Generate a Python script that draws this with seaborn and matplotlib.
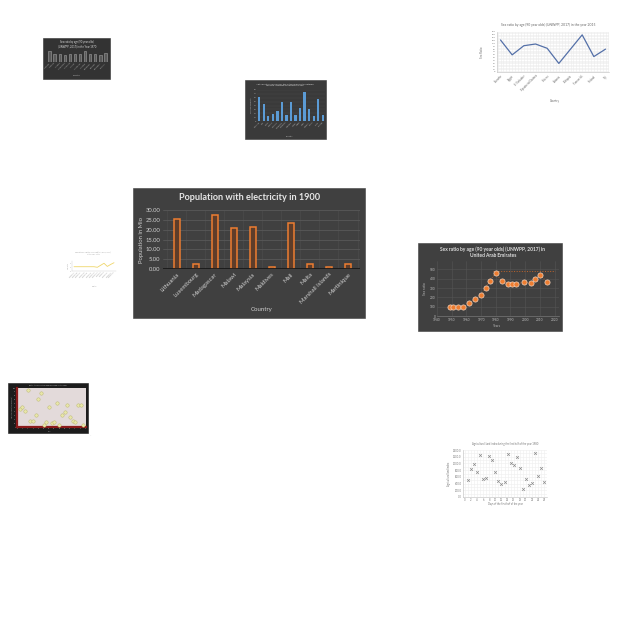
import matplotlib
matplotlib.use("Agg")
import matplotlib.pyplot as plt
import matplotlib.ticker as mticker
from matplotlib.patches import Rectangle
import seaborn as sns
import numpy as np
import pandas as pd

sns.set_theme(style="white")
plt.rcParams['font.family'] = ['Lato', 'DejaVu Sans']

# ---------------- data ----------------
# main chart
main_countries = ["Lithuania", "Luxembourg", "Madagascar", "Malawi", "Malaysia",
                  "Maldives", "Mali", "Malta", "Marshall Islands", "Martinique"]
main_values = [25.3, 2.5, 27.6, 21.0, 21.5, 1.0, 23.3, 2.5, 1.0, 2.3]

# top-left thumbnail (grey bars)
tl_countries = ["Albania", "Algeria", "Angola", "Argentina", "Armenia", "Aruba",
                "Australia", "Austria", "Bahamas", "Bahrain", "Barbados", "Belarus"]
tl_values = [95, 70, 68, 60, 70, 65, 68, 95, 70, 65, 60, 72]

# blue bars thumbnail
bl_countries = ["Malaysia", "Mali", "Malta", "Mexico", "Monaco", "Mongolia", "Morocco",
                "Namibia", "Nauru", "Nepal", "Niger", "Norway", "Oman", "Palau", "Panama"]
bl_values = [63, 45, 13, 17, 25, 50, 15, 50, 15, 33, 75, 30, 13, 58, 15]

# top-right line thumbnail
tr_countries = ["Ecuador", "Egypt", "El Salvador", "Equatorial Guinea", "Eritrea",
                "Estonia", "Ethiopia", "Faeroe Isl.", "Finland", "Fiji"]
tr_values = [112, 60, 92, 98, 83, 30, 80, 130, 54, 80]

# UAE scatter
uae_years = [1949, 1951, 1954, 1958, 1962, 1966, 1970, 1973, 1976, 1980,
             1984, 1988, 1991, 1994, 1999, 2004, 2007, 2010, 2015]
uae_values = [95, 93, 96, 92, 138, 181, 225, 301, 380, 460,
              373, 344, 348, 344, 362, 351, 399, 442, 362]

# small yellow line thumbnail
yl_countries = ["A", "B", "C", "D", "E", "F", "G", "H", "I", "J", "K", "L", "M"]
yl_values = [3.0, 3.0, 3.0, 3.0, 3.0, 3.0, 3.0, 2.6, 4.0, 5.4, 3.2, 4.6, 5.8]

# dark scatter thumbnail
ds_x = [1, 2, 3, 4, 5, 6, 7, 8, 9, 10, 11, 12, 13, 14, 15, 16, 17, 18, 19, 20, 21, 22, 23, 24, 25]
ds_y = [45, 52, 42, 95, 15, 16, 32, 72, 88, 5, 12, 52, 10, 12, 62, 5, 30, 38, 57, 25, 15, 12, 57, 57, 5]

# light scatter thumbnail
ls_days = list(range(1, 27))
ls_values = [500, 840, 970, 740, 1240, 550, 570, 1220, 1100, 750, 470, 400, 440,
             1270, 1000, 950, 1190, 850, 250, 550, 350, 420, 1320, 640, 870, 450]

W, H = 640, 640
fig = plt.figure(figsize=(6.4, 6.4), dpi=100)
fig.patch.set_facecolor("white")


def R(x0, y0, x1, y1):
    return [x0 / W, 1 - y1 / H, (x1 - x0) / W, (y1 - y0) / H]


def panel(x0, y0, x1, y1, color, ec=None):
    fig.add_artist(Rectangle((x0 / W, 1 - y1 / H), (x1 - x0) / W, (y1 - y0) / H,
                             transform=fig.transFigure, facecolor=color,
                             edgecolor=ec if ec else color, linewidth=0.4, zorder=0))


def ftext(x, y, s, **kw):
    fig.text(x / W, 1 - y / H, s, ha=kw.pop("ha", "center"), va=kw.pop("va", "center"), **kw)


def clean(ax):
    for s in ax.spines.values():
        s.set_visible(False)
    ax.tick_params(length=0, pad=1)


# ---------------- main chart ----------------
panel(133, 188, 365, 318, "#404040")
ax = fig.add_axes(R(163, 210, 360, 269))
ax.set_facecolor("#404040")
df = pd.DataFrame({"Country": main_countries, "Population": main_values})
sns.barplot(data=df, x="Country", y="Population", ax=ax, color="#5e3d2a",
            edgecolor="#ed7d31", linewidth=1.1, width=0.33, saturation=1, zorder=3)
clean(ax)
ax.set_ylim(0, 30)
ax.set_xlim(-0.72, 9.63)
ax.yaxis.set_major_locator(mticker.MultipleLocator(5))
ax.yaxis.set_major_formatter(mticker.FormatStrFormatter("%.2f"))
ax.grid(True, axis="y", color="#585858", linewidth=0.6, zorder=0)
for xv in np.arange(-0.5, 10, 1):
    ax.axvline(xv, color="#4b4b4b", linewidth=0.5, zorder=0)
ax.axhline(0, color="#1a1a1a", linewidth=1.3, zorder=4)
ax.tick_params(axis="y", labelsize=4.2, labelcolor="#cfcfcf", pad=2)
ax.tick_params(axis="x", labelsize=4.3, labelcolor="#cfcfcf", pad=2)
plt.setp(ax.get_xticklabels(), rotation=45, ha="right", rotation_mode="anchor")
ax.set_xlabel("")
ax.set_ylabel("")
ftext(142, 240, "Population in Mio", fontsize=4.2, color="#cfcfcf", rotation=90)
ftext(250, 198, "Population with electricity in 1900", fontsize=6.6, fontweight="bold",
      color="#e6e6e6")
ftext(262, 309, "Country", fontsize=4.4, color="#cfcfcf")

# ---------------- top-left grey bars ----------------
panel(43, 38, 110, 79, "#333333")
ax = fig.add_axes(R(47, 50, 108, 62))
ax.set_facecolor("#333333")
sns.barplot(x=tl_countries, y=tl_values, ax=ax, color="#5a5a5a", edgecolor="#a0a0a0",
            linewidth=0.4, width=0.45, saturation=1)
clean(ax)
ax.set_ylim(0, 100)
ax.set_yticks([])
ax.tick_params(axis="x", labelsize=1.6, labelcolor="#aaaaaa", pad=0.5)
plt.setp(ax.get_xticklabels(), rotation=45, ha="right", rotation_mode="anchor")
ftext(77, 44, "Sex ratio by age (90 year olds)\n(UNWPP, 2017) in the Year 1970",
      fontsize=1.9, color="#dddddd", linespacing=1.1)
ftext(77, 75, "Country", fontsize=1.6, color="#aaaaaa")

# ---------------- blue bars ----------------
panel(245, 80, 326, 139, "#3a3a3a")
ax = fig.add_axes(R(257, 90, 325, 121))
ax.set_facecolor("#3a3a3a")
sns.barplot(x=bl_countries, y=bl_values, ax=ax, color="#5b9bd5", edgecolor="#5b9bd5",
            linewidth=0, width=0.5, saturation=1, zorder=3)
clean(ax)
ax.set_ylim(0, 80)
ax.yaxis.set_major_locator(mticker.MultipleLocator(10))
ax.grid(True, axis="y", color="#4a4a4a", linewidth=0.3, zorder=0)
ax.tick_params(axis="y", labelsize=1.5, labelcolor="#bbbbbb", pad=0.5)
ax.tick_params(axis="x", labelsize=1.5, labelcolor="#bbbbbb", pad=0.5)
plt.setp(ax.get_xticklabels(), rotation=45, ha="right", rotation_mode="anchor")
ax.set_ylabel("Tourism receipts", fontsize=1.5, color="#bbbbbb", labelpad=1)
ftext(285, 85, "Net country Malaysia for the national and international\ntourism receiving countries in 1996",
      fontsize=1.7, color="#dddddd", linespacing=1.1)
ftext(290, 136, "Country", fontsize=1.5, color="#bbbbbb")

# ---------------- top-right line ----------------
ax = fig.add_axes(R(497, 32, 609, 72))
ax.set_facecolor("white")
sns.lineplot(x=tr_countries, y=tr_values, ax=ax, color="#5470a8", linewidth=0.9, sort=False)
clean(ax)
ax.set_ylim(0, 140)
ax.set_xlim(-0.3, 9.3)
ax.yaxis.set_major_locator(mticker.MultipleLocator(10))
ax.yaxis.set_minor_locator(mticker.MultipleLocator(5))
ax.xaxis.set_minor_locator(mticker.MultipleLocator(0.25))
ax.grid(True, which="both", color="#ececec", linewidth=0.4)
ax.spines["left"].set_visible(True)
ax.spines["left"].set_color("#bbbbbb")
ax.spines["left"].set_linewidth(0.4)
ax.spines["bottom"].set_visible(True)
ax.spines["bottom"].set_color("#bbbbbb")
ax.spines["bottom"].set_linewidth(0.4)
ax.tick_params(axis="y", labelsize=1.6, labelcolor="#666666", pad=1)
ax.tick_params(axis="x", labelsize=2.0, labelcolor="#666666", pad=1.5)
plt.setp(ax.get_xticklabels(), rotation=45, ha="right", rotation_mode="anchor")
ax.set_ylabel("Sex Ratio", fontsize=2.0, color="#666666", labelpad=2)
ftext(548, 25, "Sex ratio by age (90 year olds) (UNWPP, 2017) in the year 2015",
      fontsize=2.4, color="#666666")
ftext(555, 101, "Country", fontsize=2.0, color="#666666")

# ---------------- UAE scatter ----------------
panel(418, 243, 562, 331, "#404040")
ax = fig.add_axes(R(437, 261, 559, 316))
ax.set_facecolor("#404040")
ax.plot(uae_years, uae_values, linestyle=":", color="#c0642a", linewidth=0.6, zorder=2)
sns.scatterplot(x=uae_years, y=uae_values, ax=ax, color="#ed7d31", edgecolor="#f3d3bd",
                linewidth=0.5, s=14, zorder=3)
ax.hlines(480, 1978, 2020, colors="#c0642a", linestyles=":", linewidth=0.7, zorder=2)
clean(ax)
ax.set_xlim(1940, 2023)
ax.set_ylim(0, 590)
ax.xaxis.set_major_locator(mticker.MultipleLocator(10))
ax.yaxis.set_major_locator(mticker.MultipleLocator(100))
ax.grid(True, color="#555555", linewidth=0.4)
ax.spines["bottom"].set_visible(True)
ax.spines["bottom"].set_color("#777777")
ax.spines["bottom"].set_linewidth(0.5)
ax.tick_params(axis="both", labelsize=2.3, labelcolor="#bbbbbb", pad=1.2)
ax.set_ylabel("Sex ratio", fontsize=2.3, color="#bbbbbb", labelpad=1.5)
ftext(493, 252, "Sex ratio by age (90 year olds) (UNWPP, 2017) in\nUnited Arab Emirates",
      fontsize=3.5, fontweight="bold", color="#e0e0e0", linespacing=1.15)
ftext(497, 326, "Years", fontsize=2.3, color="#bbbbbb")

# ---------------- small yellow line ----------------
ax = fig.add_axes(R(72, 261, 116, 271))
ax.set_facecolor("white")
sns.lineplot(x=yl_countries, y=yl_values, ax=ax, color="#efd66a", linewidth=0.6, sort=False)
clean(ax)
ax.set_ylim(0, 7)
ax.spines["left"].set_visible(True)
ax.spines["left"].set_color("#cccccc")
ax.spines["left"].set_linewidth(0.3)
ax.spines["bottom"].set_visible(True)
ax.spines["bottom"].set_color("#cccccc")
ax.spines["bottom"].set_linewidth(0.3)
ax.tick_params(axis="y", labelsize=0.9, labelcolor="#999999", pad=0.3)
ax.tick_params(axis="x", labelsize=1.2, labelcolor="#999999", pad=0.5)
ax.set_xticks(range(len(yl_countries)))
ax.set_xticklabels(["Country %s" % c for c in yl_countries])
plt.setp(ax.get_xticklabels(), rotation=45, ha="right", rotation_mode="anchor")
ax.set_ylabel("Sex ratio", fontsize=1.1, color="#999999", labelpad=0.6)
ftext(93, 253, "Sex ratio by age (90 year olds) (UNWPP, 2017)\nin the year 1970",
      fontsize=1.3, color="#999999", linespacing=1.1)
ftext(95, 286, "Country", fontsize=1.1, color="#999999")

# ---------------- dark scatter ----------------
panel(8, 383, 88, 433, "#1c1c1c")
ax = fig.add_axes(R(17, 388, 86, 427))
ax.set_facecolor("#e3dada")
sns.scatterplot(x=ds_x, y=ds_y, ax=ax, color="#e8e6a8", edgecolor="#b8b46a",
                linewidth=0.3, s=6, zorder=3)
clean(ax)
ax.set_xlim(0, 26)
ax.set_ylim(0, 100)
ax.spines["left"].set_visible(True)
ax.spines["left"].set_color("#8b1a1a")
ax.spines["left"].set_linewidth(1.6)
ax.spines["bottom"].set_visible(True)
ax.spines["bottom"].set_color("#8b1a1a")
ax.spines["bottom"].set_linewidth(1.6)
ax.xaxis.set_major_locator(mticker.MultipleLocator(2))
ax.yaxis.set_major_locator(mticker.MultipleLocator(10))
ax.tick_params(axis="both", labelsize=1.2, labelcolor="#aaaaaa", pad=0.5)
ax.set_ylabel("Agricultural land (% of land area)", fontsize=1.1, color="#aaaaaa", labelpad=0.5)
ftext(48, 385, "Entry to Agricultural land in Europe in the year",
      fontsize=1.4, color="#bbbbbb")
ftext(50, 432, "Days", fontsize=1.1, color="#aaaaaa")
ftext(91, 435, "...", fontsize=2, color="#cccccc")

# ---------------- light scatter ----------------
ax = fig.add_axes(R(463, 450, 547, 497))
ax.set_facecolor("white")
sns.scatterplot(x=ls_days, y=ls_values, ax=ax, color="#8c8c8c", marker="x",
                linewidth=0.5, s=4, zorder=3)
clean(ax)
ax.set_xlim(-0.6, 26.9)
ax.set_ylim(0, 1400)
ax.xaxis.set_major_locator(mticker.MultipleLocator(2))
ax.yaxis.set_major_locator(mticker.MultipleLocator(200))
ax.yaxis.set_major_formatter(mticker.FormatStrFormatter("%.1f"))
ax.xaxis.set_minor_locator(mticker.MultipleLocator(1))
ax.yaxis.set_minor_locator(mticker.MultipleLocator(100))
ax.grid(True, which="both", color="#eeeeee", linewidth=0.4)
ax.spines["left"].set_visible(True)
ax.spines["left"].set_color("#bbbbbb")
ax.spines["left"].set_linewidth(0.4)
ax.spines["bottom"].set_visible(True)
ax.spines["bottom"].set_color("#bbbbbb")
ax.spines["bottom"].set_linewidth(0.4)
ax.tick_params(axis="both", labelsize=1.9, labelcolor="#777777", pad=1)
ax.set_ylabel("Agricultural land index", fontsize=1.8, color="#777777", labelpad=1)
ftext(505, 444, "Agricultural land index during the first half of the year 1980",
      fontsize=1.9, color="#777777")
ftext(505, 504, "Days of the first half of the year", fontsize=1.8, color="#777777")

fig.savefig("out.png", dpi=100, facecolor="white")
